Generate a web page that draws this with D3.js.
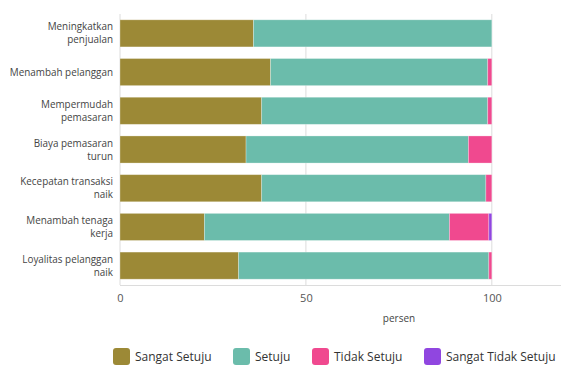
<!DOCTYPE html>
<html><head><meta charset="utf-8">
<script src="https://cdn.jsdelivr.net/npm/d3@7"></script>
<style>body{margin:0;background:#fff}svg{display:block;font-family:"Open Sans","Noto Sans",sans-serif}</style>
</head><body><svg id="c" width="561" height="365"></svg>
<script>
const categories = [["Meningkatkan","penjualan"],["Menambah pelanggan"],["Mempermudah","pemasaran"],["Biaya pemasaran","turun"],["Kecepatan transaksi","naik"],["Menambah tenaga","kerja"],["Loyalitas pelanggan","naik"]];
const seriesNames = ["Sangat Setuju","Setuju","Tidak Setuju","Sangat Tidak Setuju"];
const sangatSetuju = [35.9, 40.5, 38.1, 33.9, 38.1, 22.7, 31.9];
const setuju = [64.1, 58.4, 60.8, 59.8, 60.3, 65.9, 67.3];
const tidakSetuju = [0, 1.1, 1.1, 6.3, 1.6, 10.6, 0.8];
const sangatTidakSetuju = [0, 0, 0, 0, 0, 0.8, 0];
const xTicks = [0, 50, 100];
const colors = ["#9c8936", "#6bbcab", "#f0498f", "#9046e0"];

const svg = d3.select("#c");
const m = {l:120, t:14, r:3, b:80};
const W = 561, H = 365;
const x = d3.scaleLinear().domain([0, 117.8]).range([m.l, W - m.r]);
const y = d3.scaleBand().domain(d3.range(categories.length)).range([m.t, 285]).paddingInner(0.3).paddingOuter(0.15);

const series = [sangatSetuju, setuju, tidakSetuju, sangatTidakSetuju];
const rows = categories.map((c,i)=>{const o={i}; seriesNames.forEach((s,k)=>o[s]=series[k][i]); return o;});
const stacked = d3.stack().keys(seriesNames)(rows);

// grid
svg.append("g").selectAll("line").data(xTicks).join("line")
  .attr("x1", d=>x(d)).attr("x2", d=>x(d)).attr("y1", m.t).attr("y2", 285)
  .attr("stroke", "#dcdcdc").attr("stroke-width", 1);
svg.append("line").attr("x1", m.l).attr("x2", W).attr("y1", 285.5).attr("y2", 285.5).attr("stroke","#dcdcdc");

// bars
stacked.forEach((s,k)=>{
  svg.append("g").selectAll("rect").data(s.filter(d=>d[1]-d[0]>0)).join("rect")
    .attr("x", d=>x(d[0])).attr("width", d=>x(d[1])-x(d[0]))
    .attr("y", d=>y(d.data.i)).attr("height", y.bandwidth())
    .attr("fill", colors[k]).attr("stroke", "rgba(255,255,255,0.35)").attr("stroke-width", 0.8);
});

// x axis
const xa = svg.append("g").attr("transform", `translate(0,285)`)
  .call(d3.axisBottom(x).tickValues(xTicks).tickSize(0).tickPadding(9));
xa.select(".domain").remove();
xa.selectAll("text").attr("font-size", 11).attr("fill", "#555").attr("font-family", "Open Sans, sans-serif");

svg.append("text").attr("x", 399).attr("y", 322).attr("text-anchor","middle")
  .attr("font-size", 10).attr("fill", "#444").text("persen");

// y labels
categories.forEach((lines,i)=>{
  const cy = y(i) + y.bandwidth()/2;
  const t = svg.append("text").attr("text-anchor","end").attr("font-size", 9.9).attr("fill","#444");
  const lh = 13;
  lines.forEach((ln,j)=>{
    t.append("tspan").attr("x", 113).attr("y", cy + (j - (lines.length-1)/2)*lh + 3.6).text(ln);
  });
});

// legend
const legX = [113, 233, 312, 424];
const lg = svg.append("g");
seriesNames.forEach((s,k)=>{
  lg.append("rect").attr("x", legX[k]).attr("y", 348).attr("width", 17).attr("height", 17).attr("rx", 3).attr("fill", colors[k]);
  lg.append("text").attr("x", legX[k]+22).attr("y", 360.5).attr("font-size", 12).attr("fill","#333").text(s);
});
</script></body></html>
